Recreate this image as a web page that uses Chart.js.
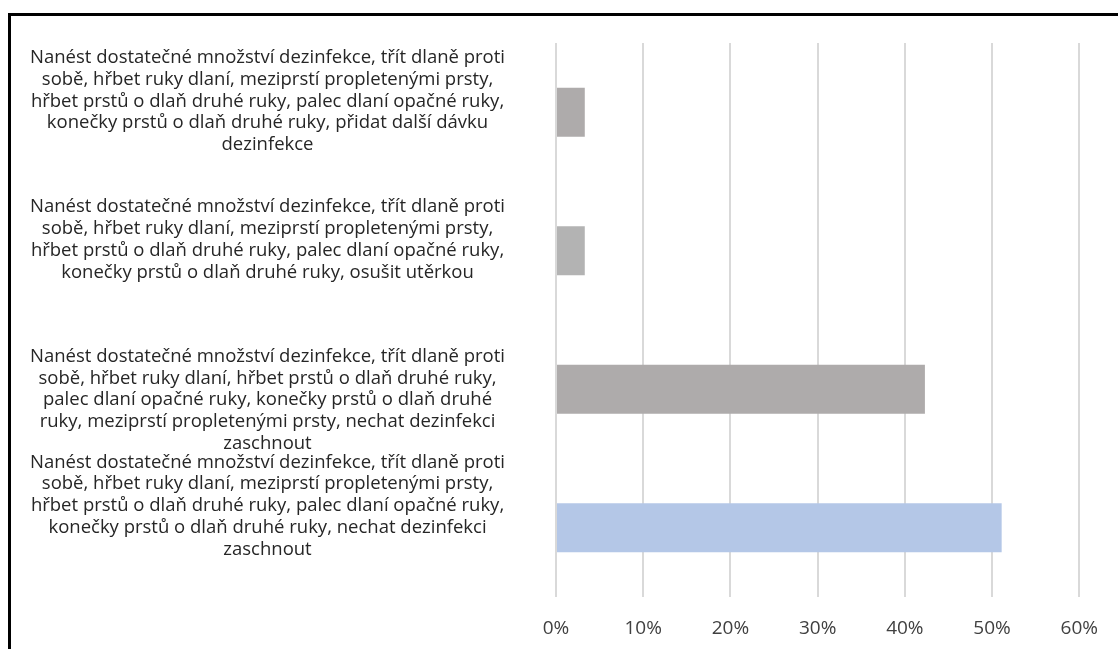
<!DOCTYPE html>
<html>
<head>
<meta charset="utf-8">
<script src="https://cdn.jsdelivr.net/npm/chart.js@4"></script>
<style>
    body { margin: 0; background: #fff; overflow: hidden; }
    #wrap { position: absolute; left: 0; top: 0; width: 1118px; height: 649px; }
    #frame {
        position: absolute; left: 8px; top: 13px; width: 1200px; height: 700px;
        border-top: 3px solid #000; border-left: 3px solid #000; pointer-events: none;
    }
</style>
</head>
<body>
<div id="wrap"><canvas id="bar-js"></canvas></div>
<div id="frame"></div>
<script>
const categories = [
    ['Nanést dostatečné množství dezinfekce, třít dlaně proti',
        'sobě, hřbet ruky dlaní, meziprstí propletenými prsty,',
        'hřbet prstů o dlaň druhé ruky, palec dlaní opačné ruky,',
        'konečky prstů o dlaň druhé ruky, přidat další dávku',
        'dezinfekce'],
    ['Nanést dostatečné množství dezinfekce, třít dlaně proti',
        'sobě, hřbet ruky dlaní, meziprstí propletenými prsty,',
        'hřbet prstů o dlaň druhé ruky, palec dlaní opačné ruky,',
        'konečky prstů o dlaň druhé ruky, osušit utěrkou'],
    ['Nanést dostatečné množství dezinfekce, třít dlaně proti',
        'sobě, hřbet ruky dlaní, hřbet prstů o dlaň druhé ruky,',
        'palec dlaní opačné ruky, konečky prstů o dlaň druhé',
        'ruky, meziprstí propletenými prsty, nechat dezinfekci',
        'zaschnout'],
    ['Nanést dostatečné množství dezinfekce, třít dlaně proti',
        'sobě, hřbet ruky dlaní, meziprstí propletenými prsty,',
        'hřbet prstů o dlaň druhé ruky, palec dlaní opačné ruky,',
        'konečky prstů o dlaň druhé ruky, nechat dezinfekci',
        'zaschnout']
];
const shares = [3.3, 3.3, 42.3, 51.1];
const barColors = ['#aeabab', '#b3b3b3', '#aeabab', '#b4c7e7'];
const xTicks = [0, 10, 20, 30, 40, 50, 60];

// excel nudges the long labels off the bar centre; >0 = blank lines below (moves up), <0 = above
const labelShift = [1, 1, -1, 2];

const shiftLabel = (lines, shift) => shift > 0
    ? [...lines, ...Array(shift).fill('')]
    : [...Array(-shift).fill(''), ...lines];

new Chart(document.getElementById('bar-js').getContext('2d'), {
    type: 'bar',
    data: {
        labels: categories,
        datasets: [{
            data: shares,
            backgroundColor: barColors,
            borderWidth: 0,
            categoryPercentage: 1,
            barPercentage: 0.355
        }]
    },
    options: {
        indexAxis: 'y',
        responsive: true,
        maintainAspectRatio: false,
        animation: false,
        layout: { padding: { top: 43, right: 34, left: 0, bottom: 0 } },
        plugins: {
            legend: { display: false },
            tooltip: { enabled: false }
        },
        scales: {
            x: {
                min: xTicks[0],
                max: xTicks[xTicks.length - 1],
                afterBuildTicks: (scale) => { scale.ticks = xTicks.map(v => ({ value: v })); },
                afterFit: (scale) => { scale.height = 52; },
                grid: { color: '#d9d9d9', lineWidth: 2, drawTicks: false },
                border: { display: false },
                ticks: {
                    padding: 20,
                    color: '#404040',
                    font: { family: 'Open Sans', size: 19 },
                    callback: (v) => v + '%'
                }
            },
            y: {
                afterFit: (scale) => {
                    scale.width = 556;
                    scale.paddingTop = 0;     // labels may overflow the plot, like in excel
                    scale.paddingBottom = 0;
                },
                grid: { display: false, drawTicks: false },
                border: { display: false },
                ticks: {
                    autoSkip: false,
                    crossAlign: 'center',
                    padding: 51,
                    color: '#262626',
                    font: { family: 'Open Sans', size: 18.5, lineHeight: 1.18 },
                    callback: (v, i) => shiftLabel(categories[i], labelShift[i])
                }
            }
        }
    }
});
</script>
</body>
</html>
